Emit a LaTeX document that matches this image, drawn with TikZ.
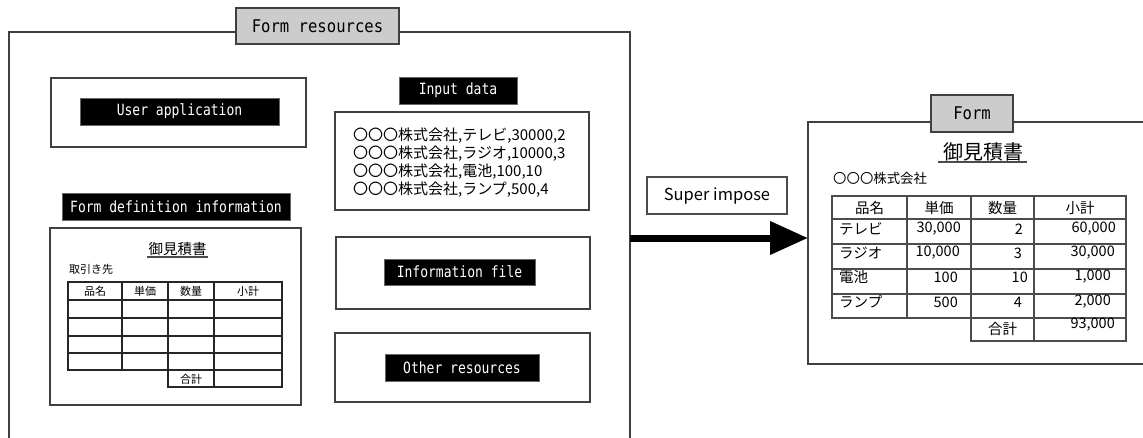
\documentclass[tikz,border=0pt]{standalone}
\usepackage{fontspec}
\newfontfamily\jp{Noto Sans CJK JP}
\newfontfamily\lbl[FakeStretch=0.84]{DejaVu Sans Mono}
\newfontfamily\lblw[FakeStretch=0.89]{DejaVu Sans Mono}
\usetikzlibrary{arrows.meta}
\begin{document}
\begin{tikzpicture}[x=1pt,y=-1pt,
  box/.style={draw=black!75, line width=1.2pt, inner sep=0pt, outer sep=0pt},
  blk/.style={fill=black, draw=black!60, line width=0.6pt, text=white, inner sep=0pt, outer sep=0pt, font=\lbl\fontsize{15.5}{17}\selectfont},
  tag/.style={draw=black!75, line width=1.2pt, fill=black!20, inner sep=0pt, outer sep=0pt, font=\lblw\fontsize{17.5}{19}\selectfont},
  tl/.style={draw=black!85, line width=1.1pt},
  tr/.style={draw=black!70, line width=1.1pt},
  ul/.style={draw=black!70, line width=1.6pt},
  idat/.style={anchor=west, inner sep=0pt, font=\jp\fontsize{15}{17}\selectfont},
  sm/.style={inner sep=0pt, font=\jp\fontsize{11}{12}\selectfont},
  rt/.style={inner sep=0pt, font=\jp\fontsize{14.5}{16}\selectfont}
]
\useasboundingbox (0,0) rectangle (1143,437);
\clip (0,0) rectangle (1143,437);

% ---------- Form resources frame ----------
\node[box, minimum width=621pt, minimum height=412pt] (res) at (319.5,238) {};
\node[tag, minimum width=163pt, minimum height=36pt] (restag) at (317.5,26) {Form resources};

% User application
\node[box, minimum width=255pt, minimum height=69pt] (uabox) at (178.5,112.5) {};
\node[blk, minimum width=199pt, minimum height=27pt] (ua) at (179.5,111.5) {User application};

% Input data
\node[blk, minimum width=118pt, minimum height=27pt] (idlab) at (458,90.5) {Input data};
\node[box, minimum width=254pt, minimum height=98pt] (idbox) at (462,161) {};
\node[idat] (d1) at (353,136) {〇〇〇株式会社,テレビ,30000,2};
\node[idat] (d2) at (353,154) {〇〇〇株式会社,ラジオ,10000,3};
\node[idat] (d3) at (353,172) {〇〇〇株式会社,電池,100,10};
\node[idat] (d4) at (353,190) {〇〇〇株式会社,ランプ,500,4};

% Form definition information
\node[blk, minimum width=228pt, minimum height=27pt] (fdlab) at (176,206.5) {Form definition information};
\node[box, minimum width=251pt, minimum height=177pt] (fdbox) at (175.5,316.5) {};
\node[inner sep=0pt, font=\jp\fontsize{14.5}{16}\selectfont] (lt) at (177.5,249) {御見積書};
\draw[ul] (147,257) -- (208,257);
\node[sm, anchor=west] (ltk) at (69,269) {取引き先};
\draw[tl] (68,282) rectangle (282,370);
\draw[tl] (168,370) rectangle (282,387);
\foreach \yy in {300,318,336,353} \draw[tl] (68,\yy) -- (282,\yy);
\foreach \xx in {122,168} \draw[tl] (\xx,282) -- (\xx,370);
\draw[tl] (214,282) -- (214,387);
\node[sm] (lh1) at (95,291) {品名};
\node[sm] (lh2) at (145,291) {単価};
\node[sm] (lh3) at (191,291) {数量};
\node[sm] (lh4) at (248,291) {小計};
\node[sm] (lsum) at (191,379) {合計};

% Information file
\node[box, minimum width=254pt, minimum height=72pt] (ifbox) at (463,273) {};
\node[blk, minimum width=151pt, minimum height=26pt] (if) at (459.5,272) {Information file};

% Other resources
\node[box, minimum width=255pt, minimum height=69pt] (orbox) at (462.5,367.5) {};
\node[blk, minimum width=154pt, minimum height=27pt] (or) at (462,367.5) {Other resources};

% ---------- Super impose ----------
\node[box, draw=black!70, minimum width=140pt, minimum height=37pt, font=\jp\fontsize{16.5}{18}\selectfont] (si) at (717,195.5) {Super impose};

% ---------- Form ----------
\node[box, minimum width=352pt, minimum height=242pt] (form) at (984,243) {};
\node[tag, minimum width=82pt, minimum height=37pt] (formtag) at (972,113.5) {Form};

\draw[black, line width=7pt, -{Triangle[length=38pt,width=32pt]}] (res.east) -- (form.west |- res.east);

\node[inner sep=0pt, font=\jp\fontsize{20}{22}\selectfont] (rt) at (983,152) {御見積書};
\draw[ul] (938,162) -- (1027,162);
\node[inner sep=0pt, anchor=west, font=\jp\fontsize{13.4}{15}\selectfont] (co) at (833,178) {〇〇〇株式会社};

\draw[tr] (832,196) rectangle (1126,318);
\draw[tr] (971,318) rectangle (1126,341);
\foreach \yy in {219,244,269,294} \draw[tr] (832,\yy) -- (1126,\yy);
\foreach \xx in {907,971} \draw[tr] (\xx,196) -- (\xx,318);
\draw[tr] (1034,196) -- (1034,341);

\node[rt] (h1) at (869.5,208) {品名};
\node[rt] (h2) at (939,208) {単価};
\node[rt] (h3) at (1002.5,208) {数量};
\node[rt] (h4) at (1080,208) {小計};

\node[rt, anchor=west] (n1) at (839,229) {テレビ};
\node[rt, anchor=west] (n2) at (839,253) {ラジオ};
\node[rt, anchor=west] (n3) at (839,277) {電池};
\node[rt, anchor=west] (n4) at (839,302) {ランプ};

\node[rt, anchor=east] (p1) at (961,229) {30,000};
\node[rt, anchor=east] (p2) at (960,253) {10,000};
\node[rt, anchor=east] (p3) at (958,277) {100};
\node[rt, anchor=east] (p4) at (958,302) {500};

\node[rt, anchor=east] (q1) at (1023,229) {2};
\node[rt, anchor=east] (q2) at (1022,253) {3};
\node[rt, anchor=east] (q3) at (1028,277) {10};
\node[rt, anchor=east] (q4) at (1022,302) {4};

\node[rt, anchor=east] (s1) at (1116,229) {60,000};
\node[rt, anchor=east] (s2) at (1115,253) {30,000};
\node[rt, anchor=east] (s3) at (1111,277) {1,000};
\node[rt, anchor=east] (s4) at (1111,302) {2,000};

\node[rt] (tot) at (1002.5,329) {合計};
\node[rt, anchor=east] (totv) at (1115,325) {93,000};
\end{tikzpicture}
\end{document}
